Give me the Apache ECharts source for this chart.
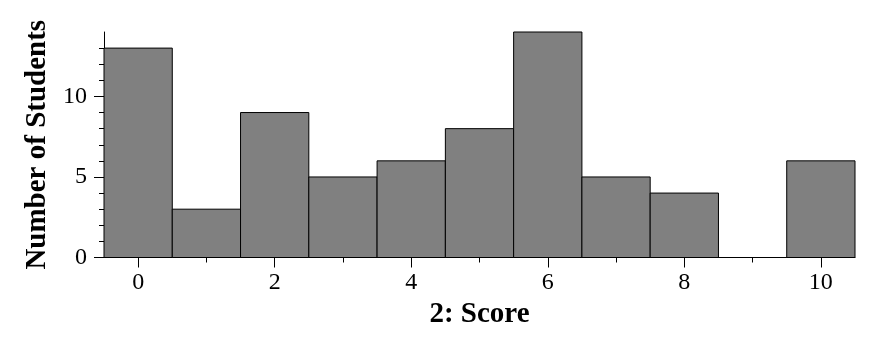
<!DOCTYPE html>
<html>
<head>
<meta charset="utf-8">
<script src="https://cdn.jsdelivr.net/npm/echarts@6/dist/echarts.min.js"></script>
<style>
html,body{margin:0;padding:0;background:#fff;}
#chart{width:873px;height:344px;}
</style>
</head>
<body>
<div id="chart"></div>
<script>
// Data
const scores = [0, 1, 2, 3, 4, 5, 6, 7, 8, 9, 10];
const counts = [13, 3, 9, 5, 6, 8, 14, 5, 4, 0, 6];
const binWidth = 1;
// Ticks
const xMajorTicks = [0, 2, 4, 6, 8, 10];
const xMinorTicks = [1, 3, 5, 7, 9];
const yMajorTicks = [0, 5, 10];
const yMinorTicks = [1, 2, 3, 4, 6, 7, 8, 9, 11, 12, 13];
const xTitle = '2: Score';
const yTitle = 'Number of Students';

const FONT = '"Liberation Serif", "DejaVu Serif", serif';
const chart = echarts.init(document.getElementById('chart'), null, {renderer: 'canvas'});

const grid = {left: 104, right: 18, top: 32, bottom: 86.5, containLabel: false};
const xBase = {type: 'value', min: -0.5, max: 10.5, gridIndex: 0, splitLine: {show: false}};
const yBase = {type: 'value', min: 0, max: 14, gridIndex: 0, splitLine: {show: false}};

chart.setOption({
  animation: false,
  backgroundColor: '#fff',
  grid: grid,
  xAxis: [
    Object.assign({}, xBase, {
      position: 'bottom',
      axisLine: {show: true, onZero: false, lineStyle: {color: '#000', width: 1}},
      axisTick: {show: true, length: 10, customValues: xMajorTicks, lineStyle: {color: '#000'}},
      axisLabel: {show: true, customValues: xMajorTicks, margin: 13, color: '#000', fontSize: 24, fontFamily: FONT},
      name: xTitle, nameLocation: 'middle', nameGap: 43,
      nameTextStyle: {color: '#000', fontSize: 29, fontWeight: 'bold', fontFamily: FONT}
    }),
    Object.assign({}, xBase, {
      position: 'bottom',
      axisLine: {show: false, onZero: false},
      axisTick: {show: true, length: 5, customValues: xMinorTicks, lineStyle: {color: '#000'}},
      axisLabel: {show: false}
    })
  ],
  yAxis: [
    Object.assign({}, yBase, {
      position: 'left',
      axisLine: {show: true, onZero: false, lineStyle: {color: '#000', width: 1}},
      axisTick: {show: true, length: 10, customValues: yMajorTicks, lineStyle: {color: '#000'}},
      axisLabel: {show: true, customValues: yMajorTicks, margin: 17, color: '#000', fontSize: 24, fontFamily: FONT},
      name: yTitle, nameLocation: 'middle', nameGap: 32, nameRotate: 90,
      nameTextStyle: {color: '#000', fontSize: 29, fontWeight: 'bold', fontFamily: FONT}
    }),
    Object.assign({}, yBase, {
      position: 'left',
      axisLine: {show: false, onZero: false},
      axisTick: {show: true, length: 5, customValues: yMinorTicks, lineStyle: {color: '#000'}},
      axisLabel: {show: false}
    })
  ],
  series: [{
    type: 'custom',
    xAxisIndex: 0,
    yAxisIndex: 0,
    data: scores.map((s, i) => [s, counts[i]]),
    renderItem: function (params, api) {
      const x = api.value(0), y = api.value(1);
      const p1 = api.coord([x - binWidth / 2, y]);
      const p2 = api.coord([x + binWidth / 2, 0]);
      return {
        type: 'rect',
        shape: {x: p1[0], y: p1[1], width: p2[0] - p1[0], height: p2[1] - p1[1]},
        style: {fill: '#808080', stroke: '#000', lineWidth: 1}
      };
    }
  }]
});
</script>
</body>
</html>
